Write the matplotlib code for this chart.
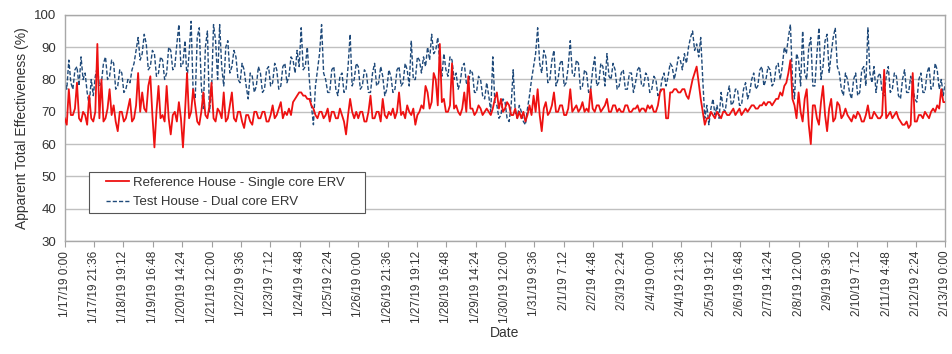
import matplotlib
matplotlib.use("Agg")
import matplotlib.pyplot as plt
from matplotlib.patches import Rectangle
import pandas as pd

# ---- data (90-minute samples) ----
start_time = "2019-01-17 00:00"
sample_step = "90min"

test_house = [
    80, 77, 86, 79, 77, 83, 84, 78, 87, 80, 82, 76, 72, 80, 75, 81,
    84, 78, 79, 85, 87, 80, 81, 86, 85, 77, 78, 83, 82, 76, 77, 80,
    79, 83, 85, 89, 93, 86, 88, 94, 91, 83, 84, 89, 88, 81, 82, 87,
    86, 80, 82, 90, 89, 83, 84, 91, 97, 84, 85, 92, 80, 88, 98, 76,
    74, 93, 96, 78, 71, 90, 95, 70, 76, 97, 92, 80, 97, 84, 78, 90,
    92, 82, 84, 89, 87, 80, 79, 85, 83, 78, 74, 82, 81, 76, 78, 84,
    82, 76, 77, 83, 84, 78, 79, 85, 83, 77, 78, 84, 85, 79, 81, 87,
    86, 82, 89, 84, 96, 83, 84, 90, 80, 72, 66, 78, 83, 88, 97, 82,
    80, 76, 76, 83, 84, 77, 75, 81, 82, 76, 77, 84, 94, 78, 80, 85,
    84, 77, 78, 83, 82, 76, 76, 82, 85, 78, 79, 84, 81, 75, 77, 83,
    81, 76, 77, 83, 84, 78, 79, 85, 83, 78, 92, 80, 80, 87, 86, 82,
    87, 84, 90, 86, 94, 88, 89, 93, 85, 81, 88, 83, 81, 87, 86, 80,
    82, 77, 79, 84, 85, 79, 78, 83, 82, 76, 76, 81, 80, 75, 74, 79,
    75, 70, 87, 73, 72, 68, 69, 74, 73, 68, 67, 72, 83, 70, 68, 72,
    70, 67, 66, 71, 75, 80, 84, 88, 96, 85, 82, 89, 87, 79, 80, 86,
    89, 78, 80, 85, 86, 78, 79, 84, 92, 82, 81, 86, 85, 77, 78, 83,
    82, 76, 77, 83, 87, 78, 79, 85, 84, 78, 88, 81, 80, 85, 83, 77,
    78, 82, 83, 77, 77, 82, 82, 76, 79, 83, 84, 78, 78, 82, 81, 76,
    77, 81, 80, 75, 76, 80, 82, 78, 81, 85, 84, 80, 83, 87, 86, 83,
    88, 85, 90, 93, 95, 89, 91, 87, 93, 80, 68, 72, 66, 71, 74, 69,
    72, 68, 76, 71, 70, 75, 78, 72, 73, 77, 77, 72, 72, 77, 79, 74,
    76, 80, 82, 77, 78, 83, 84, 78, 80, 84, 83, 78, 79, 84, 85, 80,
    84, 90, 88, 93, 97, 80, 74, 88, 86, 78, 95, 82, 80, 90, 93, 78,
    78, 88, 96, 80, 84, 92, 94, 82, 88, 93, 96, 84, 82, 77, 75, 82,
    80, 76, 74, 80, 82, 75, 76, 83, 84, 78, 96, 82, 79, 84, 76, 81,
    82, 76, 75, 81, 84, 76, 77, 82, 81, 75, 74, 80, 83, 76, 76, 81,
    78, 74, 73, 80, 82, 76, 76, 82, 84, 77, 78, 85, 83, 77, 80, 75,
    79,
]

reference_house = [
    68, 66, 77, 69, 69, 71, 79, 68, 67, 70, 69, 66, 75, 68, 67, 70,
    91, 68, 80, 67, 68, 71, 77, 69, 72, 67, 64, 70, 70, 67, 68, 71,
    74, 67, 68, 72, 82, 70, 76, 71, 70, 78, 81, 69, 59, 70, 78, 68,
    69, 67, 78, 68, 63, 69, 70, 67, 73, 68, 59, 70, 82, 68, 70, 77,
    72, 67, 66, 70, 76, 69, 68, 72, 79, 68, 67, 71, 70, 68, 76, 67,
    68, 72, 76, 68, 67, 70, 70, 67, 65, 69, 69, 67, 66, 70, 70, 68,
    68, 70, 70, 67, 67, 69, 72, 68, 69, 71, 73, 68, 70, 69, 71, 69,
    73, 74, 75, 76, 76, 75, 75, 74, 74, 72, 71, 69, 68, 70, 70, 68,
    69, 71, 67, 70, 70, 68, 68, 71, 69, 67, 63, 69, 74, 70, 68, 70,
    68, 70, 70, 67, 67, 70, 75, 68, 68, 70, 70, 67, 74, 69, 68, 70,
    69, 71, 68, 70, 76, 69, 70, 68, 72, 70, 69, 71, 66, 69, 70, 72,
    71, 78, 76, 71, 73, 82, 80, 72, 91, 73, 74, 70, 70, 72, 85, 71,
    72, 70, 69, 71, 76, 70, 81, 71, 71, 69, 70, 72, 71, 69, 70, 71,
    70, 69, 71, 74, 76, 71, 74, 70, 71, 73, 72, 69, 69, 71, 68, 70,
    68, 70, 67, 69, 72, 69, 75, 70, 77, 69, 64, 71, 73, 69, 70, 72,
    76, 70, 70, 72, 72, 69, 69, 71, 77, 70, 71, 72, 70, 71, 73, 70,
    71, 70, 77, 71, 70, 72, 72, 70, 71, 72, 74, 70, 70, 72, 72, 70,
    71, 70, 70, 72, 72, 70, 70, 71, 71, 72, 70, 71, 71, 70, 72, 71,
    72, 70, 70, 72, 76, 77, 77, 68, 68, 76, 76, 77, 77, 76, 76, 77,
    77, 75, 74, 77, 80, 82, 84, 79, 74, 70, 66, 68, 68, 70, 69, 68,
    70, 69, 68, 70, 70, 69, 69, 70, 71, 69, 70, 71, 69, 70, 71, 70,
    71, 72, 72, 71, 71, 72, 72, 73, 72, 73, 73, 72, 73, 74, 74, 76,
    75, 78, 79, 82, 86, 74, 72, 68, 76, 70, 67, 74, 77, 66, 60, 72,
    72, 68, 66, 73, 78, 69, 64, 71, 74, 67, 68, 73, 72, 68, 69, 71,
    69, 68, 67, 69, 68, 70, 69, 67, 67, 69, 72, 68, 68, 70, 69, 68,
    68, 69, 83, 68, 69, 70, 68, 69, 70, 68, 67, 66, 66, 67, 65, 66,
    82, 67, 67, 69, 69, 68, 70, 69, 68, 70, 71, 70, 72, 71, 77, 73,
    73,
]

tick_labels = [
    "1/17/19 0:00", "1/17/19 21:36", "1/18/19 19:12", "1/19/19 16:48",
    "1/20/19 14:24", "1/21/19 12:00", "1/22/19 9:36", "1/23/19 7:12",
    "1/24/19 4:48", "1/25/19 2:24", "1/26/19 0:00", "1/26/19 21:36",
    "1/27/19 19:12", "1/28/19 16:48", "1/29/19 14:24", "1/30/19 12:00",
    "1/31/19 9:36", "2/1/19 7:12", "2/2/19 4:48", "2/3/19 2:24",
    "2/4/19 0:00", "2/4/19 21:36", "2/5/19 19:12", "2/6/19 16:48",
    "2/7/19 14:24", "2/8/19 12:00", "2/9/19 9:36", "2/10/19 7:12",
    "2/11/19 4:48", "2/12/19 2:24", "2/13/19 0:00",
]
tick_step = "1296min"  # 21:36

series_labels = ["Reference House - Single core ERV", "Test House - Dual core ERV"]

# ---- plot ----
plt.rcParams["font.family"] = ["Liberation Sans", "DejaVu Sans"]
text_color = "#333333"

times = pd.date_range(start_time, periods=len(test_house), freq=sample_step)
tick_times = pd.date_range(start_time, periods=len(tick_labels), freq=tick_step)

fig = plt.figure(figsize=(9.52, 3.54), dpi=100)
ax = fig.add_axes([0.068, 0.319, 0.925, 0.639])

ax.plot(times, reference_house, color="#ee1111", lw=1.3, zorder=3,
        label=series_labels[0])
ax.plot(times, test_house, color="#1f4a7a", lw=1.0, ls=(0, (3, 1.5)),
        zorder=2, label=series_labels[1])

ax.set_ylim(30, 100)
ax.set_yticks(range(30, 101, 10))
ax.set_xlim(tick_times[0], tick_times[-1])
ax.set_xticks(tick_times)
ax.set_xticklabels(tick_labels, rotation=90, fontsize=8.5, color=text_color)
ax.tick_params(axis="y", labelsize=9.5, colors=text_color, length=0, pad=6)
ax.tick_params(axis="x", length=4, color="#a0a0a0", pad=3)
ax.grid(axis="y", color="#c0c0c0", lw=1.0)
ax.set_axisbelow(True)
for s in ax.spines.values():
    s.set_color("#a8a8a8")
    s.set_linewidth(1.0)

ax.set_ylabel("Apparent Total Effectiveness (%)", fontsize=10,
              color=text_color, labelpad=4)
ax.set_xlabel("Date", fontsize=10, color=text_color, labelpad=2)

# legend box (drawn as a separate frame to match the wide right padding)
box = Rectangle((0.027, 0.124), 0.314, 0.181, transform=ax.transAxes,
                facecolor="white", edgecolor="#555555", lw=0.8, zorder=4)
ax.add_patch(box)
leg = ax.legend(loc="center left", bbox_to_anchor=(0.047, 0.2145),
                fontsize=9.5, frameon=False, handlelength=1.75,
                borderpad=0, labelspacing=0.55, borderaxespad=0,
                handletextpad=0.25)
leg.set_zorder(5)
for t in leg.get_texts():
    t.set_color(text_color)

fig.savefig("out.png", dpi=100)
